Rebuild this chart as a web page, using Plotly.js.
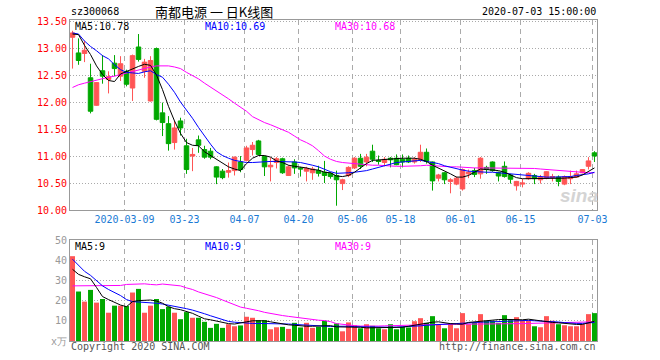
<!DOCTYPE html>
<html><head><meta charset="utf-8">
<script src="https://cdn.plot.ly/plotly-3.0.1.min.js"></script>
<style>html,body{margin:0;padding:0;background:#fff}#chart{width:660px;height:360px}</style>
</head><body><div id="chart"></div>
<script>
const dates = ['2020-02-25','2020-02-26','2020-02-27','2020-02-28','2020-03-02','2020-03-03','2020-03-04','2020-03-05','2020-03-06','2020-03-09',
'2020-03-10','2020-03-11','2020-03-12','2020-03-13','2020-03-16','2020-03-17','2020-03-18','2020-03-19','2020-03-20','2020-03-23',
'2020-03-24','2020-03-25','2020-03-26','2020-03-27','2020-03-30','2020-03-31','2020-04-01','2020-04-02','2020-04-03','2020-04-07',
'2020-04-08','2020-04-09','2020-04-10','2020-04-13','2020-04-14','2020-04-15','2020-04-16','2020-04-17','2020-04-20','2020-04-21',
'2020-04-22','2020-04-23','2020-04-24','2020-04-27','2020-04-28','2020-04-29','2020-04-30','2020-05-06','2020-05-07','2020-05-08',
'2020-05-11','2020-05-12','2020-05-13','2020-05-14','2020-05-15','2020-05-18','2020-05-19','2020-05-20','2020-05-21','2020-05-22',
'2020-05-25','2020-05-26','2020-05-27','2020-05-28','2020-05-29','2020-06-01','2020-06-02','2020-06-03','2020-06-04','2020-06-05',
'2020-06-08','2020-06-09','2020-06-10','2020-06-11','2020-06-12','2020-06-15','2020-06-16','2020-06-17','2020-06-18','2020-06-19',
'2020-06-22','2020-06-23','2020-06-24','2020-06-29','2020-06-30','2020-07-01','2020-07-02','2020-07-03'];

const openP = [13.20,12.91,12.90,12.45,11.94,12.58,12.42,12.72,12.48,12.57,
12.26,13.02,12.57,12.02,12.99,11.80,11.60,11.25,11.65,11.19,
11.00,11.30,11.12,11.09,10.80,10.72,10.70,10.73,10.89,10.92,
11.12,11.28,10.99,10.80,10.88,10.95,10.64,10.89,10.78,10.72,
10.69,10.73,10.70,10.68,10.64,10.49,10.64,10.78,10.96,10.89,
11.09,10.92,10.88,10.96,10.96,10.94,10.96,10.89,10.93,11.07,
10.89,10.59,10.69,10.53,10.48,10.39,10.67,10.73,10.67,10.79,
10.89,10.70,10.81,10.65,10.45,10.48,10.58,10.64,10.56,10.59,
10.60,10.61,10.48,10.58,10.61,10.69,10.81,11.06];
const highP = [13.32,13.18,13.13,12.71,12.37,12.87,12.57,12.87,12.85,12.60,
12.88,13.26,12.80,12.85,13.01,11.99,11.74,11.65,11.71,11.32,
11.15,11.38,11.19,11.15,10.81,10.76,10.88,10.99,11.00,11.19,
11.26,11.30,11.01,10.97,10.98,10.97,10.83,10.94,10.80,10.80,
10.80,10.82,10.91,10.70,10.73,10.58,10.81,10.98,11.04,11.04,
11.21,11.01,10.98,10.98,11.03,11.03,11.01,10.98,11.21,11.14,
10.90,10.67,10.70,10.59,10.62,10.77,10.75,10.78,10.98,10.82,
10.90,10.71,10.90,10.67,10.54,10.58,10.70,10.67,10.65,10.72,
10.67,10.64,10.64,10.73,10.73,10.76,10.98,11.09];
const lowP = [12.62,12.69,12.74,11.79,11.93,12.34,12.16,12.48,12.39,12.29,
12.02,12.75,12.45,12.01,11.66,11.37,11.10,11.12,11.38,10.67,
10.72,11.06,10.95,10.94,10.48,10.57,10.60,10.64,10.70,10.90,
11.01,11.01,10.63,10.53,10.77,10.67,10.63,10.67,10.62,10.53,
10.56,10.62,10.50,10.58,10.08,10.37,10.61,10.76,10.76,10.81,
10.89,10.84,10.81,10.79,10.83,10.79,10.87,10.86,10.89,10.86,
10.36,10.53,10.48,10.31,10.46,10.36,10.59,10.61,10.58,10.67,
10.71,10.53,10.60,10.49,10.36,10.42,10.56,10.48,10.49,10.57,
10.53,10.44,10.46,10.48,10.60,10.68,10.75,10.89];
const closeP = [13.28,12.77,12.96,11.83,12.36,12.48,12.47,12.62,12.71,12.33,
12.86,12.79,12.74,12.77,11.68,11.62,11.23,11.52,11.52,10.75,
11.03,11.20,10.98,10.98,10.61,10.60,10.73,10.98,10.75,11.15,
11.20,11.03,10.80,10.83,10.95,10.69,10.80,10.78,10.76,10.77,
10.76,10.68,10.64,10.62,10.56,10.56,10.79,10.96,10.81,10.98,
10.94,10.90,10.94,10.93,10.84,10.89,10.89,10.94,11.07,10.90,
10.54,10.65,10.56,10.56,10.59,10.75,10.70,10.66,10.96,10.75,
10.73,10.63,10.62,10.57,10.53,10.50,10.68,10.58,10.61,10.71,
10.62,10.53,10.62,10.62,10.67,10.75,10.91,11.00];
const volume = [42.0,24.5,19.5,25.3,19.0,20.8,14.0,17.5,17.5,17.3,
24.0,25.8,14.0,17.5,20.8,15.8,17.0,14.0,10.8,14.3,
11.5,11.5,9.5,6.5,8.5,6.5,8.3,7.3,7.7,12.0,
11.5,10.3,10.3,5.8,6.8,7.0,6.0,9.0,6.7,9.0,
6.5,7.0,10.0,6.5,8.7,4.8,9.2,7.8,6.3,8.3,
7.5,6.3,5.8,8.3,5.8,7.0,6.7,9.8,11.3,9.0,
12.3,8.3,6.3,8.7,6.3,13.8,8.3,9.0,13.3,10.0,
10.0,9.0,12.8,10.3,11.8,10.0,10.3,7.3,6.8,12.3,
10.0,8.3,7.8,7.3,7.3,8.3,13.3,13.8];

const priceMA5 = [13.26,13.25,13.05,12.88,12.67,12.51,12.40,12.38,12.52,12.57,
12.62,12.66,12.70,12.68,12.50,12.23,11.92,11.65,11.42,11.25,
11.20,11.19,11.08,11.01,10.93,10.86,10.80,10.76,10.73,10.86,
10.96,11.01,11.01,10.98,10.91,10.88,10.83,10.81,10.80,10.78,
10.75,10.74,10.70,10.69,10.63,10.62,10.64,10.70,10.78,10.86,
10.92,10.93,10.94,10.95,10.95,10.96,10.96,10.96,10.94,10.90,
10.83,10.78,10.72,10.67,10.61,10.61,10.64,10.70,10.76,10.75,
10.74,10.73,10.70,10.65,10.60,10.58,10.58,10.58,10.58,10.59,
10.59,10.59,10.59,10.60,10.61,10.65,10.71,10.78];
const priceMA10 = [13.28,13.26,13.13,13.03,12.95,12.86,12.80,12.69,12.60,12.55,
12.54,12.53,12.56,12.58,12.51,12.46,12.33,12.18,12.00,11.86,
11.70,11.53,11.37,11.22,11.08,11.01,10.96,10.92,10.90,10.88,
10.88,10.89,10.90,10.90,10.90,10.90,10.90,10.89,10.88,10.86,
10.83,10.80,10.75,10.71,10.68,10.68,10.69,10.70,10.71,10.73,
10.76,10.79,10.82,10.85,10.88,10.89,10.90,10.91,10.92,10.90,
10.88,10.86,10.82,10.79,10.77,10.74,10.72,10.71,10.71,10.70,
10.70,10.69,10.68,10.67,10.66,10.65,10.64,10.62,10.61,10.61,
10.61,10.61,10.61,10.62,10.64,10.65,10.67,10.70];
const priceMA30 = [12.27,12.32,12.35,12.38,12.41,12.43,12.46,12.48,12.51,12.53,
12.56,12.60,12.63,12.65,12.67,12.67,12.67,12.65,12.62,12.55,
12.49,12.43,12.35,12.28,12.20,12.13,12.06,11.98,11.90,11.83,
11.73,11.67,11.62,11.58,11.53,11.49,11.44,11.37,11.30,11.25,
11.19,11.10,11.00,10.94,10.90,10.88,10.87,10.86,10.84,10.84,
10.83,10.83,10.82,10.82,10.81,10.81,10.81,10.82,10.82,10.83,
10.82,10.81,10.81,10.80,10.80,10.79,10.78,10.78,10.78,10.78,
10.78,10.78,10.78,10.78,10.78,10.78,10.77,10.77,10.76,10.75,
10.74,10.73,10.72,10.71,10.71,10.70,10.69,10.69];
const volMA5 = [35.5,33.0,31.8,30.8,26.5,22.0,20.5,19.0,17.8,17.0,
19.5,20.0,20.3,20.3,19.8,18.7,17.0,16.0,15.5,14.5,
13.7,12.3,11.0,10.5,9.8,9.0,8.6,8.4,8.8,9.5,
10.0,10.0,10.0,9.5,9.0,8.3,8.0,7.8,7.5,7.3,
7.3,7.3,7.5,7.6,7.0,7.0,7.0,7.0,6.8,6.5,
6.5,6.6,6.6,6.7,6.7,6.8,7.3,7.8,8.2,9.0,
9.3,9.5,8.9,8.6,8.4,8.3,9.2,9.5,9.8,10.2,
10.4,10.6,10.7,10.6,10.3,10.5,10.8,10.4,9.8,9.6,
9.2,9.0,8.7,8.5,8.2,8.2,9.0,9.8];
const volMA10 = [40.5,37.5,34.5,32.5,30.0,27.3,25.5,24.0,22.5,20.5,
19.5,19.3,19.2,19.0,18.7,18.3,17.8,17.3,16.7,16.0,
15.3,14.5,13.5,12.5,11.5,10.7,9.7,9.3,9.0,8.8,
8.7,8.7,8.7,8.7,8.7,8.6,8.4,8.2,8.0,7.8,
7.6,7.5,7.5,7.2,7.3,7.4,7.3,7.1,7.0,6.9,
6.8,6.7,6.7,6.8,6.9,7.0,7.1,7.3,7.5,7.8,
8.0,8.1,8.2,8.5,8.8,9.0,9.1,9.2,9.3,9.4,
9.5,9.7,9.9,10.0,10.2,10.3,10.2,10.0,9.9,9.8,
9.6,9.4,9.1,8.8,8.7,8.7,8.8,9.2];
const volMA30 = [27.3,27.3,27.3,27.3,27.3,27.3,27.4,27.4,27.5,28.0,
28.2,28.3,28.3,28.0,27.8,28.2,28.0,27.6,27.3,26.3,
25.5,24.3,23.4,22.4,21.5,20.3,19.2,17.8,16.8,16.2,
15.7,15.0,14.2,13.6,13.0,12.6,12.2,11.8,11.2,10.8,
10.5,10.3,10.1,9.6,8.6,8.2,7.8,7.6,7.4,7.3,
7.3,7.4,7.5,7.5,7.6,7.7,7.8,7.9,8.0,8.2,
8.2,8.3,8.3,8.3,8.3,8.3,8.3,8.3,8.3,8.3,
8.3,8.3,8.3,8.4,8.5,8.6,8.7,8.8,8.9,9.0,
9.0,9.1,9.2,9.2,9.3,9.4,9.4,9.5];

const tickDates = ['2020-03-09','2020-03-23','2020-04-07','2020-04-20','2020-05-06','2020-05-18','2020-06-01','2020-06-15','2020-07-03'];
const priceTicks = [10.0,10.5,11.0,11.5,12.0,12.5,13.0,13.5];
const volTicks = [0,10,20,30,40,50];
const volTickText = ['x万','10','20','30','40','50'];

const code = 'sz300068';
const titleText = '南都电源 一 日K线图';
const stamp = '2020-07-03 15:00:00';
const priceLabels = ['MA5:10.78','MA10:10.69','MA30:10.68'];
const volLabels = ['MA5:9','MA10:9','MA30:9'];

const idx = dates.map((d, i) => i);
const RED = '#ff5555', GREEN = '#00a800';
const volColors = idx.map(i => closeP[i] >= openP[i] ? RED : GREEN);
const GRIDOFF = -0.33;
const tickvals = tickDates.map(d => dates.indexOf(d) + GRIDOFF);
const ticktext = tickDates.map((d, k) => k === 0 ? d : d.slice(5));
const mono = 'DejaVu Sans Mono';

const line = (y, color, xa, ya) => ({type:'scatter', mode:'lines', x: idx, y: y, xaxis: xa, yaxis: ya,
  line:{color: color, width: 1}, hoverinfo:'skip'});

const traces = [
  {type:'candlestick', x: idx, open: openP, high: highP, low: lowP, close: closeP, xaxis:'x', yaxis:'y',
   increasing:{line:{color:RED, width:1}, fillcolor:RED},
   decreasing:{line:{color:GREEN, width:1}, fillcolor:GREEN},
   whiskerwidth:0, hoverinfo:'skip'},
  line(priceMA30, '#ff00ff', 'x', 'y'),
  line(priceMA10, '#0000ff', 'x', 'y'),
  line(priceMA5, '#000000', 'x', 'y'),
  {type:'bar', x: idx, y: volume, xaxis:'x2', yaxis:'y2', width:0.83,
   marker:{color: volColors, line:{width:0}}, hoverinfo:'skip'},
  line(volMA30, '#ff00ff', 'x2', 'y2'),
  line(volMA10, '#0000ff', 'x2', 'y2'),
  line(volMA5, '#000000', 'x2', 'y2')
];

const gridCommon = {showgrid:true, gridcolor:'#aaaaaa', gridwidth:1, showline:true, mirror:true,
  linecolor:'#999999', linewidth:1, zeroline:false, fixedrange:true, ticks:''};

const ann = (text, x, y, xanchor, color, size, family, extra) => Object.assign({
  text: text, xref:'paper', yref:'paper', x: x, y: y, xanchor: xanchor, yanchor:'middle', borderpad:0,
  showarrow:false, font:{family: family || mono, size: size || 10, color: color}}, extra || {});

const layout = {
  width:660, height:360, margin:{l:70, r:63, t:20, b:19},
  paper_bgcolor:'#ffffff', plot_bgcolor:'#ffffff', showlegend:false,
  boxgap:0.25, boxgroupgap:0, hovermode:false,
  xaxis: Object.assign({}, gridCommon, {domain:[0,1], anchor:'y', range:[-0.42, 87.42],
    tickmode:'array', tickvals: tickvals, ticktext: ticktext, griddash:'5px,4px',
    tickfont:{family: mono, size:10, color:'#1a7ad4'}, rangeslider:{visible:false}}),
  yaxis: Object.assign({}, gridCommon, {domain:[0.408,1], anchor:'x', range:[10, 13.52],
    tickmode:'array', tickvals: priceTicks, tickformat:'.2f', griddash:'1px,2px',
    tickfont:{family: mono, size:10, color:'#ff0000'}}),
  xaxis2: Object.assign({}, gridCommon, {domain:[0,1], anchor:'y2', matches:'x', range:[-0.42, 87.42],
    tickmode:'array', tickvals: tickvals, showticklabels:false, griddash:'5px,4px'}),
  yaxis2: Object.assign({}, gridCommon, {domain:[0,0.3146], anchor:'x2', range:[0, 50],
    tickmode:'array', tickvals: volTicks, ticktext: volTickText, griddash:'1px,2px',
    tickfont:{family: mono, size:10, color:'#999999'}}),
  annotations: [
    ann(code, 0, 1.025, 'left', '#000'),
    ann(titleText, 0.273, 1.028, 'center', '#000', 13, 'Noto Sans CJK SC'),
    ann(stamp, 1, 1.025, 'right', '#000'),
    ann(priceLabels[0], 0.008, 0.979, 'left', '#000000'),
    ann(priceLabels[1], 0.255, 0.979, 'left', '#0000ff'),
    ann(priceLabels[2], 0.501, 0.979, 'left', '#ff00ff'),
    ann(volLabels[0], 0.008, 0.294, 'left', '#000000'),
    ann(volLabels[1], 0.255, 0.294, 'left', '#0000ff'),
    ann(volLabels[2], 0.501, 0.294, 'left', '#ff00ff'),
    ann('Copyright 2020 SINA.COM', 0, -0.016, 'left', '#555555'),
    ann('http://finance.sina.com.cn', 1, -0.016, 'right', '#555555'),
    ann('sina', 0.965, 0.452, 'center', '#d4d4d4', 19, 'Liberation Sans', {font:{family:'Liberation Sans', size:19, color:'#d4d4d4', weight:'bold', style:'italic'}})
  ]
};

Plotly.newPlot('chart', traces, layout, {staticPlot:true, displayModeBar:false});
</script>
</body></html>
